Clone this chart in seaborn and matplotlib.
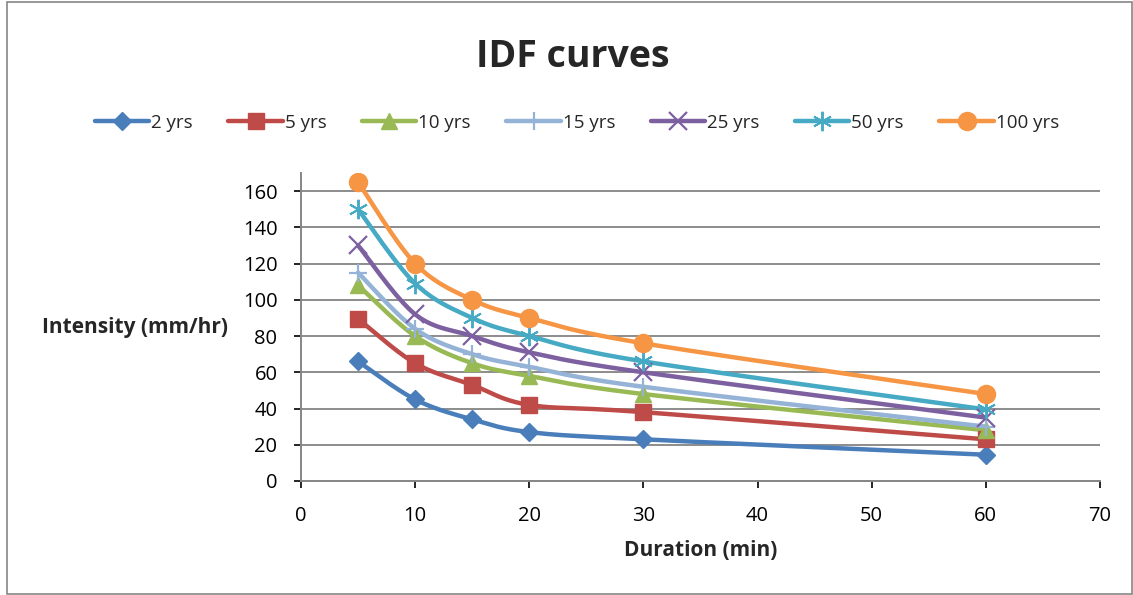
import numpy as np
import pandas as pd
import matplotlib
matplotlib.use("Agg")
import matplotlib.pyplot as plt
import seaborn as sns
from matplotlib.lines import Line2D
from matplotlib.patches import Rectangle

durations = [5, 10, 15, 20, 30, 60]
series_names = ["2 yrs", "5 yrs", "10 yrs", "15 yrs", "25 yrs", "50 yrs", "100 yrs"]
i_2 = [66, 45, 34, 27, 23, 14.5]
i_5 = [89.5, 65, 53, 42, 38, 23]
i_10 = [108, 80, 65, 58, 48, 28]
i_15 = [115, 84, 70, 63, 52, 30]
i_25 = [130, 92, 80, 71, 60, 35]
i_50 = [150, 109, 90, 80, 66, 39.5]
i_100 = [165, 120, 100, 90, 76, 48]
values = [i_2, i_5, i_10, i_15, i_25, i_50, i_100]

colors = ["#4A7EBB", "#BE4B48", "#98B954", "#95B3D7", "#7D60A0", "#46AAC5", "#F69544"]
markers = ["D", "s", "^", "+", "x", (6, 2, 0), "o"]
msizes = [9, 11, 11, 13, 13, 14, 13]
mews = [1, 1, 1, 1.6, 1.6, 1.4, 1]

sns.set_theme(style="white")
plt.rcParams["font.family"] = ["Open Sans", "DejaVu Sans"]

fig = plt.figure(figsize=(11.33, 5.95), dpi=100)
ax = fig.add_axes([301 / 1133, 1 - 481 / 595, (1100 - 301) / 1133, (481 - 173) / 595])


def smooth(xs, ys, n=40):
    # Excel-like smoothed line: cubic Bezier with Catmull-Rom style control points
    x = np.asarray(xs, float)
    y = np.asarray(ys, float)
    sx, sy = 11.414, 1.8125
    px, py = x * sx, y * sy
    out_x, out_y = [], []
    m = len(px)
    for i in range(m - 1):
        p0 = np.array([px[max(i - 1, 0)], py[max(i - 1, 0)]])
        p1 = np.array([px[i], py[i]])
        p2 = np.array([px[i + 1], py[i + 1]])
        p3 = np.array([px[min(i + 2, m - 1)], py[min(i + 2, m - 1)]])
        c1 = p1 + (p2 - p0) / 6.0
        c2 = p2 - (p3 - p1) / 6.0
        t = np.linspace(0, 1, n)[:, None]
        b = ((1 - t) ** 3) * p1 + 3 * ((1 - t) ** 2) * t * c1 + 3 * (1 - t) * t ** 2 * c2 + t ** 3 * p2
        out_x.extend(b[:, 0] / sx)
        out_y.extend(b[:, 1] / sy)
    return np.array(out_x), np.array(out_y)


rows = []
for name, vals in zip(series_names, values):
    sxv, syv = smooth(durations, vals)
    for k, (a, b) in enumerate(zip(sxv, syv)):
        rows.append({"series": name, "order": k, "x": a, "y": b})
smooth_df = pd.DataFrame(rows)

pts = pd.DataFrame(
    [{"series": n, "x": d, "y": v} for n, vals in zip(series_names, values) for d, v in zip(durations, vals)]
)

for name, col in zip(series_names, colors):
    sub = smooth_df[smooth_df["series"] == name]
    sns.lineplot(data=sub, x="x", y="y", sort=False, estimator=None, ax=ax,
                 color=col, linewidth=3.2, legend=False, zorder=3)
for name, col, mk, ms, mew in zip(series_names, colors, markers, msizes, mews):
    sub = pts[pts["series"] == name]
    ax.plot(sub["x"], sub["y"], linestyle="none", marker=mk, markersize=ms,
            color=col, markeredgecolor=col, markeredgewidth=mew, zorder=4)

ax.set_xlim(0, 70)
ax.set_ylim(0, 170)
ax.set_xticks(range(0, 71, 10))
ax.set_yticks(range(0, 161, 20))
ax.tick_params(axis="both", labelsize=14.5, colors="#000000", length=5, width=1.2,
               direction="out", bottom=True, left=True)
ax.tick_params(axis="x", pad=13)
ax.tick_params(axis="y", pad=12)
for t in ax.get_xticklines() + ax.get_yticklines():
    t.set_color("#868686")
ax.grid(axis="y", color="#8C8C8C", linewidth=1.4)
ax.grid(axis="x", visible=False)
ax.set_axisbelow(True)
for s in ["top", "right"]:
    ax.spines[s].set_visible(False)
for s in ["left", "bottom"]:
    ax.spines[s].set_color("#868686")
    ax.spines[s].set_linewidth(1.4)

ax.set_xlabel("")
ax.set_ylabel("")
fig.text(701 / 1133, 1 - 550 / 595, "Duration (min)", fontsize=15, fontweight="bold",
         ha="center", va="center")
fig.text(135 / 1133, 1 - 328 / 595, "Intensity (mm/hr)", fontsize=15, fontweight="bold",
         ha="center", va="center")

fig.text(573 / 1133, 1 - 57 / 595, "IDF curves", fontsize=27, fontweight="bold",
         ha="center", va="center")

handles = [Line2D([0], [0], color=c, linewidth=3.2, marker=m, markersize=s, markeredgecolor=c,
                  markeredgewidth=w)
           for c, m, s, w in zip(colors, markers, msizes, mews)]
fig.legend(handles, series_names, loc="center", bbox_to_anchor=(577 / 1133, 1 - 123 / 595),
           ncol=7, frameon=False, fontsize=13.5, handlelength=2.9, handletextpad=0.1,
           columnspacing=1.9, borderaxespad=0)

fig.patches.append(Rectangle((7 / 1133, 1 / 595), 1125 / 1133, 592 / 595, transform=fig.transFigure,
                             fill=False, edgecolor="#868686", linewidth=1.2))

fig.savefig("out.png", dpi=100)
